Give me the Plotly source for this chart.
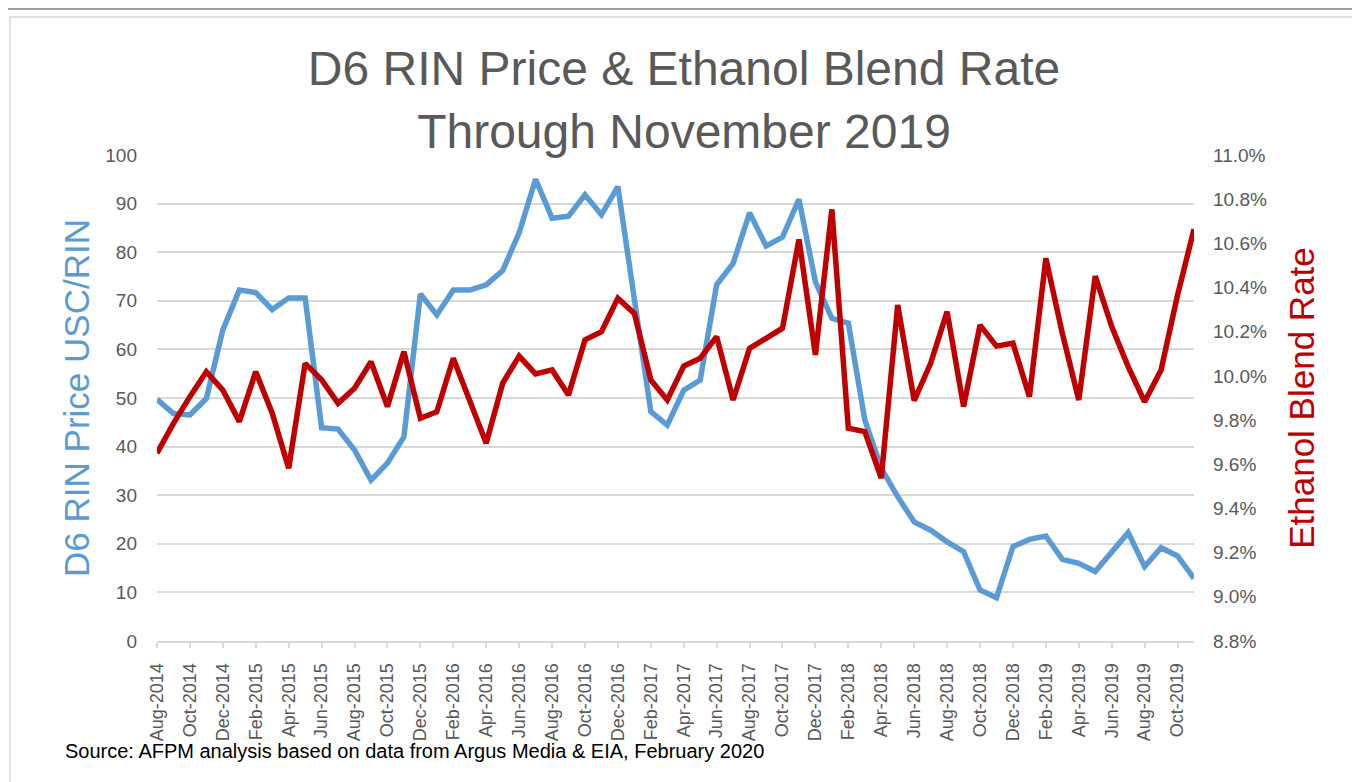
import plotly.graph_objects as go

months = ["Aug-2014","Sep-2014","Oct-2014","Nov-2014","Dec-2014","Jan-2015","Feb-2015","Mar-2015",
          "Apr-2015","May-2015","Jun-2015","Jul-2015","Aug-2015","Sep-2015","Oct-2015","Nov-2015",
          "Dec-2015","Jan-2016","Feb-2016","Mar-2016","Apr-2016","May-2016","Jun-2016","Jul-2016",
          "Aug-2016","Sep-2016","Oct-2016","Nov-2016","Dec-2016","Jan-2017","Feb-2017","Mar-2017",
          "Apr-2017","May-2017","Jun-2017","Jul-2017","Aug-2017","Sep-2017","Oct-2017","Nov-2017",
          "Dec-2017","Jan-2018","Feb-2018","Mar-2018","Apr-2018","May-2018","Jun-2018","Jul-2018",
          "Aug-2018","Sep-2018","Oct-2018","Nov-2018","Dec-2018","Jan-2019","Feb-2019","Mar-2019",
          "Apr-2019","May-2019","Jun-2019","Jul-2019","Aug-2019","Sep-2019","Oct-2019","Nov-2019"]

rin_price = [49.7, 46.8, 46.5, 49.9, 64.0, 72.2, 71.7, 68.2, 70.6, 70.6, 43.9, 43.6,
             39.3, 33.1, 36.6, 42.0, 71.4, 67.1, 72.2, 72.2, 73.3, 76.2, 84.0, 95.0,
             87.0, 87.4, 91.8, 87.7, 93.5, 70.0, 47.2, 44.4, 51.6, 53.7, 73.3, 77.7,
             88.1, 81.3, 83.1, 90.9, 73.9, 66.4, 65.4, 45.5, 35.5, 29.7, 24.5, 22.8,
             20.4, 18.4, 10.5, 8.9, 19.4, 20.9, 21.6, 16.8, 16.0, 14.3, 18.4, 22.3,
             15.3, 19.2, 17.5, 12.9]

blend_rate = [9.65, 9.785, 9.906, 10.019, 9.936, 9.793, 10.019, 9.831, 9.582, 10.057, 9.982, 9.876,
              9.944, 10.064, 9.861, 10.110, 9.808, 9.838, 10.080, 9.891, 9.695, 9.967, 10.09, 10.009,
              10.027, 9.914, 10.163, 10.20, 10.351, 10.283, 9.982, 9.891, 10.045, 10.08, 10.178, 9.891,
              10.125, 10.17, 10.216, 10.618, 10.095, 10.754, 9.763, 9.748, 9.537, 10.321, 9.888, 10.057,
              10.291, 9.861, 10.23, 10.135, 10.148, 9.906, 10.532, 10.193, 9.891, 10.452, 10.223, 10.042,
              9.883, 10.027, 10.366, 10.664]

tick_labels = months[::2]

BLUE = "#5B9BD5"
RED = "#C00000"
GRAY = "#595959"
FONT = "Liberation Sans, Arial, sans-serif"

fig = go.Figure()
fig.add_trace(go.Scatter(x=months, y=rin_price, mode="lines", name="D6 RIN Price",
                         line=dict(color=BLUE, width=5.5), yaxis="y"))
fig.add_trace(go.Scatter(x=months, y=blend_rate, mode="lines", name="Ethanol Blend Rate",
                         line=dict(color=RED, width=5.5), yaxis="y2"))

fig.update_layout(
    width=1352, height=774,
    margin=dict(l=149, r=166, t=147, b=141),
    paper_bgcolor="white", plot_bgcolor="white",
    showlegend=False,
    font=dict(family=FONT, color=GRAY),
    title=dict(text="D6 RIN Price & Ethanol Blend Rate<br>Through November 2019",
               x=0.5, xanchor="center", xref="container",
               y=0.90, yanchor="top", yref="container",
               font=dict(size=48, color=GRAY, family=FONT)),
    xaxis=dict(type="category", range=[0, 63], tickmode="array", tickvals=tick_labels,
               ticktext=tick_labels, tickangle=-90, tickfont=dict(size=18, color=GRAY),
               showgrid=False, showline=True, linecolor="#D9D9D9", linewidth=2,
               ticks="outside", ticklen=5, tickcolor="#D9D9D9", tickwidth=1.5,
               ticklabelstandoff=8, zeroline=False),
    yaxis=dict(range=[0, 100], dtick=10, showgrid=True, gridcolor="#D9D9D9", gridwidth=2,
               zeroline=False, showline=False, tickfont=dict(size=19, color=GRAY),
               ticklabelstandoff=19,
               title=dict(text="D6 RIN Price USC/RIN", font=dict(size=35, color=BLUE), standoff=5)),
    yaxis2=dict(range=[8.8, 11.0], dtick=0.2, tickformat=".1f", ticksuffix="%",
                overlaying="y", side="right", showgrid=False, zeroline=False, showline=False,
                tickfont=dict(size=19, color=GRAY), ticklabelstandoff=18,
                title=dict(text="Ethanol Blend Rate", font=dict(size=35, color=RED), standoff=23)),
)

fig.add_annotation(text="Source: AFPM analysis based on data from Argus Media & EIA, February 2020",
                   xref="paper", yref="paper", x=(63 - 157) / 1037, y=(641 - 764) / 486,
                   xanchor="left", yanchor="bottom", showarrow=False,
                   font=dict(size=20, color="black", family=FONT))

# outer frame lines
fig.add_shape(type="line", xref="paper", yref="paper", x0=-0.16, x1=1.17,
              y0=(641 - 9) / 486, y1=(641 - 9) / 486, line=dict(color="#7F7F7F", width=1.5))
fig.add_shape(type="line", xref="paper", yref="paper", x0=(10 - 157) / 1037, x1=1.17,
              y0=(641 - 17) / 486, y1=(641 - 17) / 486, line=dict(color="#D9D9D9", width=1.5))
fig.add_shape(type="line", xref="paper", yref="paper", x0=(10 - 157) / 1037, x1=(10 - 157) / 1037,
              y0=(641 - 17) / 486, y1=-0.4, line=dict(color="#D9D9D9", width=1.5))

fig.write_html("out.html")
